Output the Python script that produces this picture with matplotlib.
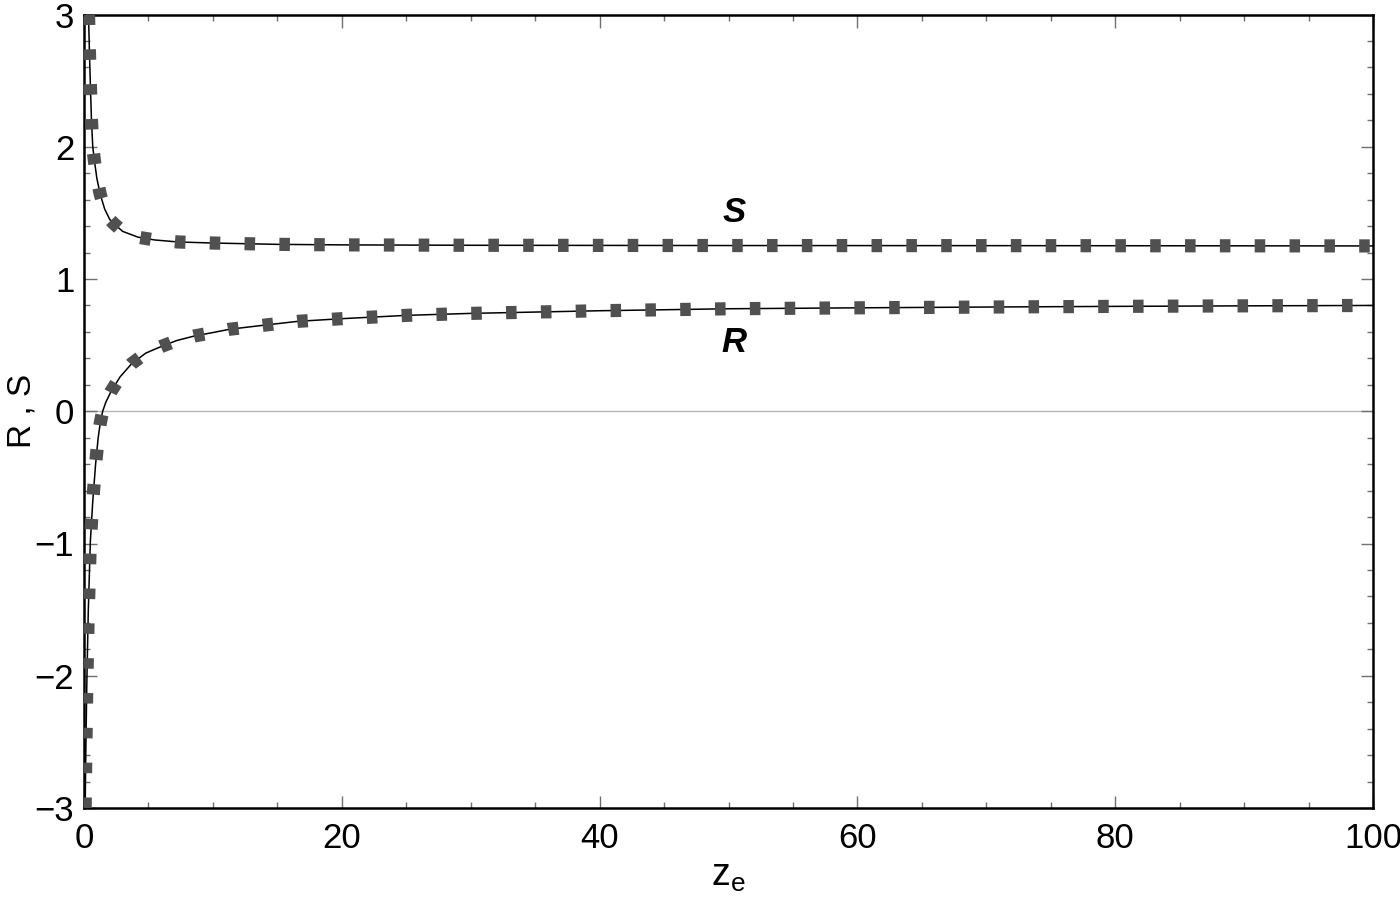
import numpy as np
import matplotlib.pyplot as plt
from matplotlib.ticker import MultipleLocator

plt.rcParams['font.family'] = ['Liberation Sans', 'DejaVu Sans']
plt.rcParams['mathtext.fontset'] = 'custom'
plt.rcParams['mathtext.rm'] = 'Liberation Sans'

# values
z_S = [0.35, 0.42, 0.50, 0.58, 0.68, 0.80, 1.0, 1.26, 1.6, 2.0, 2.3, 3.0, 4.2,
       5.5, 7.3, 10, 15, 20, 30, 50, 75, 100]
S_vals = [3.0, 2.72, 2.45, 2.20, 2.00, 1.90, 1.76, 1.64, 1.53, 1.45, 1.42, 1.36,
          1.316, 1.295, 1.28, 1.272, 1.262, 1.258, 1.255, 1.253, 1.252, 1.25]

z_R = [0.09, 0.14, 0.22, 0.33, 0.49, 0.68, 0.9, 1.1, 1.26, 1.45, 1.7, 2.1, 2.8,
       3.7, 4.8, 6.0, 7.2, 8.6, 10, 11.3, 13.9, 16.6, 20, 25, 30, 40, 50, 60,
       70, 80, 90, 100]
R_vals = [-3.0, -2.58, -2.05, -1.52, -0.99, -0.68, -0.40, -0.20, -0.09, 0.0, 0.07,
          0.15, 0.26, 0.36, 0.44, 0.49, 0.535, 0.57, 0.595, 0.62, 0.65, 0.68,
          0.70, 0.725, 0.74, 0.76, 0.775, 0.782, 0.788, 0.793, 0.797, 0.80]

curve_labels = ['S', 'R']
label_pos = [(50.4, 1.50), (50.4, 0.52)]

fig = plt.figure(figsize=(14, 8.99), dpi=100)
ax = fig.add_axes([84 / 1400, 1 - 808 / 899, (1373 - 84) / 1400, (808 - 14.5) / 899])

ax.axhline(0, color='#b4b4b4', lw=1.0, zorder=1)

for z, v in [(z_S, S_vals), (z_R, R_vals)]:
    ax.plot(z, v, color='black', lw=1.1, zorder=2)
    ax.plot(z, v, color='#505050', lw=9.5, linestyle=(0, (0.8, 1.84)),
            dash_capstyle='butt', zorder=3)

for name, (x, y) in zip(curve_labels, label_pos):
    ax.text(x, y, name, fontsize=25, fontweight='bold', fontstyle='italic',
            ha='center', va='center')

ax.set_xlim(0, 100)
ax.set_ylim(-3, 3)
ax.xaxis.set_major_locator(MultipleLocator(20))
ax.xaxis.set_minor_locator(MultipleLocator(5))
ax.yaxis.set_major_locator(MultipleLocator(1))
ax.yaxis.set_minor_locator(MultipleLocator(0.2))
ax.tick_params(which='both', direction='in', top=True, right=True,
               color='#707070', width=1.0, labelsize=25)
ax.tick_params(which='major', length=9)
ax.tick_params(which='minor', length=4.5)
ax.tick_params(axis='x', which='major', pad=10)
ax.tick_params(axis='y', which='major', pad=7)
for sp in ax.spines.values():
    sp.set_linewidth(1.8)
    sp.set_color('black')

ax.set_xlabel(r'$\mathregular{z_e}$', fontsize=27, labelpad=2)
ax.set_ylabel('R , S', fontsize=24, va='center')
ax.yaxis.set_label_coords(-0.048, 0.5)

fig.savefig('out.png', dpi=100)
